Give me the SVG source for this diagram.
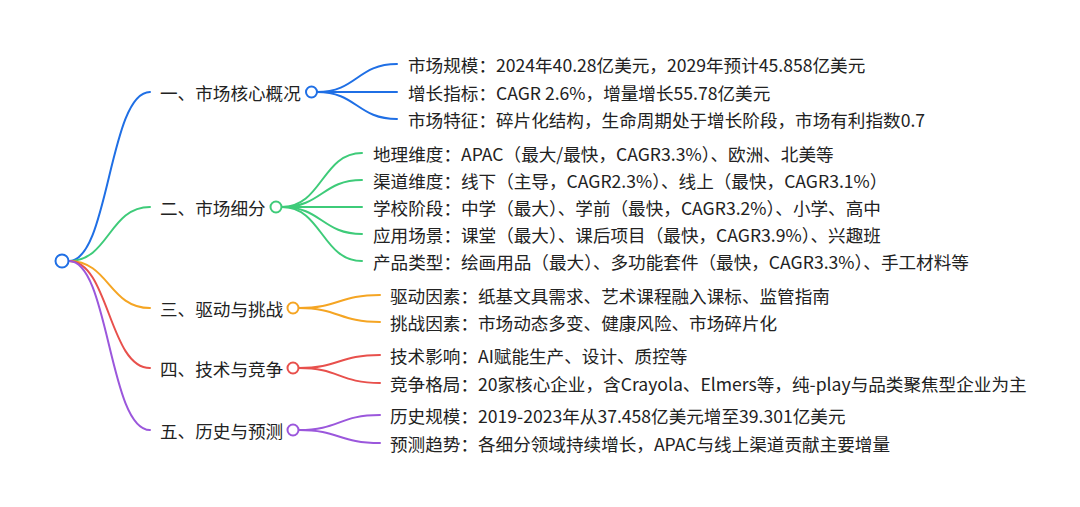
<svg xmlns="http://www.w3.org/2000/svg" width="1080" height="507" viewBox="0 0 1080 507">
<style>
text{font-family:"Noto Sans CJK SC","Noto Sans",sans-serif;font-size:17.6px;fill:#222;dominant-baseline:central}
.l{fill:none;stroke-width:2;stroke-linecap:round}
.c{fill:#fff;stroke-width:2}
.b{stroke:#1f6fe5}.g{stroke:#3ecb79}.o{stroke:#f5a523}.r{stroke:#e8504c}.p{stroke:#9b57dc}
</style>
<rect width="1080" height="507" fill="#fff"/>
<g id="connectors">
<path class="l b" d="M69,261 C109,261 109,92 150,92"/>
<path class="l g" d="M69,261 C109,261 109,207 150,207"/>
<path class="l o" d="M69,261 C109,261 109,308 150,308"/>
<path class="l r" d="M69,261 C109,261 109,368 150,368"/>
<path class="l p" d="M69,261 C109,261 109,430 150,430"/>
<path class="l b" d="M317,92 C357,92 357,64 397,64"/>
<path class="l b" d="M317,92 L397,92"/>
<path class="l b" d="M317,92 C357,92 357,119 397,119"/>
<path class="l g" d="M282,207 C322,207 322,153 362,153"/>
<path class="l g" d="M282,207 C322,207 322,180 362,180"/>
<path class="l g" d="M282,207 L362,207"/>
<path class="l g" d="M282,207 C322,207 322,234 362,234"/>
<path class="l g" d="M282,207 C322,207 322,261 362,261"/>
<path class="l o" d="M299,308 C339,308 339,295 380,295"/>
<path class="l o" d="M299,308 C339,308 339,322 380,322"/>
<path class="l r" d="M299,368 C339,368 339,355 380,355"/>
<path class="l r" d="M299,368 C339,368 339,383 380,383"/>
<path class="l p" d="M299,430 C339,430 339,415 380,415"/>
<path class="l p" d="M299,430 C339,430 339,443 380,443"/>
</g>
<g id="root"><circle class="c b" cx="62" cy="261" r="6.5"/></g>
<g id="n1"><text x="160" y="92">一、市场核心概况</text><circle class="c b" cx="311.5" cy="92" r="5.5"/></g>
<g id="n1a"><text x="408" y="64">市场规模：2024年40.28亿美元，2029年预计45.858亿美元</text></g>
<g id="n1b"><text x="408" y="92">增长指标：CAGR 2.6%，增量增长55.78亿美元</text></g>
<g id="n1c"><text x="408" y="119">市场特征：碎片化结构，生命周期处于增长阶段，市场有利指数0.7</text></g>
<g id="n2"><text x="160" y="207">二、市场细分</text><circle class="c g" cx="276" cy="207" r="5.5"/></g>
<g id="n2a"><text x="373" y="153">地理维度：APAC（最大/最快，CAGR3.3%）、欧洲、北美等</text></g>
<g id="n2b"><text x="373" y="180">渠道维度：线下（主导，CAGR2.3%）、线上（最快，CAGR3.1%）</text></g>
<g id="n2c"><text x="373" y="207">学校阶段：中学（最大）、学前（最快，CAGR3.2%）、小学、高中</text></g>
<g id="n2d"><text x="373" y="234">应用场景：课堂（最大）、课后项目（最快，CAGR3.9%）、兴趣班</text></g>
<g id="n2e"><text x="373" y="261">产品类型：绘画用品（最大）、多功能套件（最快，CAGR3.3%）、手工材料等</text></g>
<g id="n3"><text x="160" y="308">三、驱动与挑战</text><circle class="c o" cx="293" cy="308" r="5.5"/></g>
<g id="n3a"><text x="390" y="295">驱动因素：纸基文具需求、艺术课程融入课标、监管指南</text></g>
<g id="n3b"><text x="390" y="322">挑战因素：市场动态多变、健康风险、市场碎片化</text></g>
<g id="n4"><text x="160" y="368">四、技术与竞争</text><circle class="c r" cx="293" cy="368" r="5.5"/></g>
<g id="n4a"><text x="390" y="355">技术影响：AI赋能生产、设计、质控等</text></g>
<g id="n4b"><text x="390" y="383">竞争格局：20家核心企业，含Crayola、Elmers等，纯-play与品类聚焦型企业为主</text></g>
<g id="n5"><text x="160" y="430">五、历史与预测</text><circle class="c p" cx="293" cy="430" r="5.5"/></g>
<g id="n5a"><text x="390" y="415">历史规模：2019-2023年从37.458亿美元增至39.301亿美元</text></g>
<g id="n5b"><text x="390" y="443">预测趋势：各细分领域持续增长，APAC与线上渠道贡献主要增量</text></g>
</svg>
